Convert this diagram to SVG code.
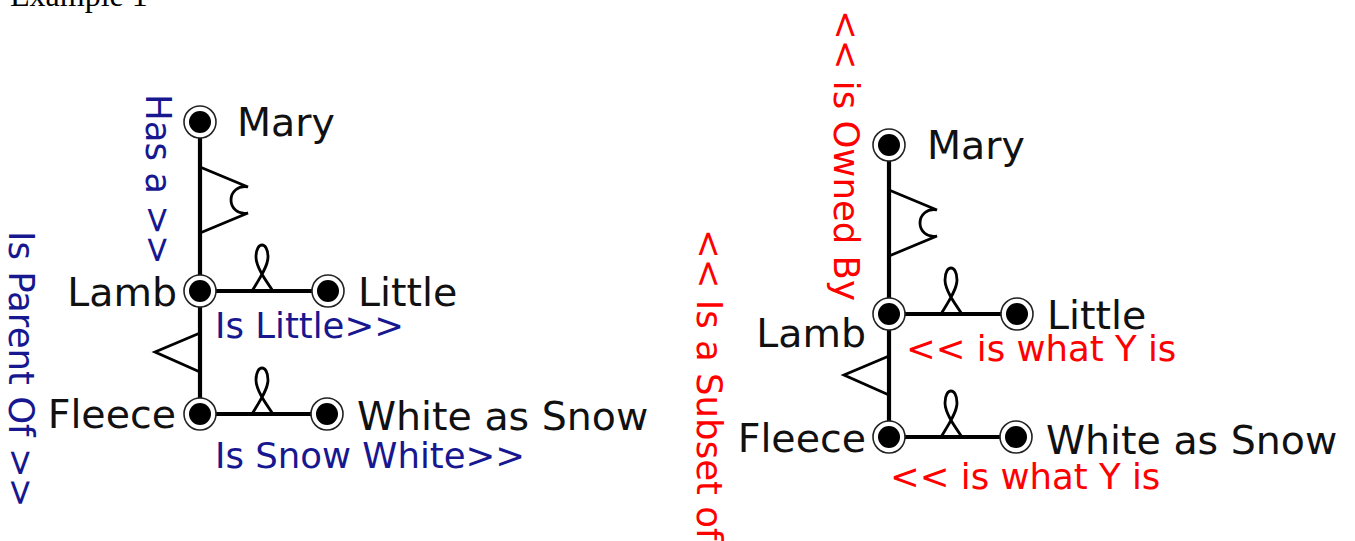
<svg xmlns="http://www.w3.org/2000/svg" width="1355" height="541" viewBox="0 0 1355 541">
  <style>
    .bg { fill: #ffffff; }
    .title { font-family: "Liberation Serif", "Times New Roman", serif; font-size: 32px; fill: #000; }
    .name { font-family: "DejaVu Sans", "Liberation Sans", sans-serif; font-size: 39.5px; fill: #111; }
    .rel-blue { font-family: "DejaVu Sans", "Liberation Sans", sans-serif; font-size: 35.5px; fill: #171790; }
    .rel-red { font-family: "DejaVu Sans", "Liberation Sans", sans-serif; font-size: 35.5px; fill: #ff0000; }
    .ring { fill: #ffffff; stroke: #222; stroke-width: 1.6; }
    .dot { fill: #000; }
    .link { fill: none; stroke: #000; stroke-width: 4.2; stroke-linecap: butt; }
    .mark { fill: none; stroke: #000; stroke-width: 2.8; stroke-linejoin: miter; }
  </style>
  <defs>
    <!-- node glyph: white ring with a black centre -->
    <g id="pt">
      <circle class="ring" r="16"/>
      <circle class="dot" r="11"/>
    </g>
    <!-- "has a" flag, anchored at the upper node -->
    <path id="flag" class="mark" d="M0,45 L48,65 C38,63 31,70 31,78 C31,86 38,93 48,91 L0,111"/>
    <!-- attribute loop, anchored at the left node -->
    <path id="loop" class="mark" d="M52,0 C58,-10 68,-24 68,-34 C68,-42 65,-46 62,-46 C59,-46 56,-42 56,-34 C56,-24 66,-10 73,0"/>
    <!-- subset wedge, anchored at the upper node -->
    <path id="wedge" class="mark" d="M0,42 L-45,61 L0,81"/>
  </defs>

  <rect class="bg" x="0" y="0" width="1355" height="541"/>

  <text class="title" x="10" y="5.5">Example 1</text>

  <!-- connectors -->
  <g id="connectors">
    <path class="link" d="M200,122 V414"/>
    <path class="link" d="M200,291 H328"/>
    <path class="link" d="M200,414 H327"/>
    <use href="#flag" transform="translate(200,122)"/>
    <use href="#wedge" transform="translate(200,291)"/>
    <use href="#loop" transform="translate(200,291)"/>
    <use href="#loop" transform="translate(200,414)"/>

    <path class="link" d="M889,145 V437"/>
    <path class="link" d="M889,314 H1017"/>
    <path class="link" d="M889,437 H1016"/>
    <use href="#flag" transform="translate(889,145)"/>
    <use href="#wedge" transform="translate(889,314)"/>
    <use href="#loop" transform="translate(889,314)"/>
    <use href="#loop" transform="translate(889,437)"/>
  </g>

  <!-- left example: relation labels -->
  <g id="left-relations">
    <text class="rel-blue" transform="translate(146,94) rotate(90)">Has a &gt;&gt;</text>
    <text class="rel-blue" transform="translate(9,231) rotate(90)">Is Parent Of &gt;&gt;</text>
    <text class="rel-blue" x="215" y="338">Is Little&gt;&gt;</text>
    <text class="rel-blue" x="215" y="468">Is Snow White&gt;&gt;</text>
  </g>

  <!-- left example: nodes -->
  <g id="l-mary"><use href="#pt" x="200" y="122"/><text class="name" x="237" y="136">Mary</text></g>
  <g id="l-lamb"><use href="#pt" x="200" y="291"/><text class="name" x="177" y="306" text-anchor="end">Lamb</text></g>
  <g id="l-little"><use href="#pt" x="328" y="291"/><text class="name" x="358" y="306">Little</text></g>
  <g id="l-fleece"><use href="#pt" x="200" y="414"/><text class="name" x="176" y="428" text-anchor="end">Fleece</text></g>
  <g id="l-white"><use href="#pt" x="327" y="414"/><text class="name" x="357" y="430">White as Snow</text></g>

  <!-- right example: relation labels -->
  <g id="right-relations">
    <text class="rel-red" transform="translate(834,10) rotate(90)">&lt;&lt; is Owned By</text>
    <text class="rel-red" transform="translate(697,229) rotate(90)">&lt;&lt; Is a Subset of</text>
    <text class="rel-red" x="906" y="361">&lt;&lt; is what Y is</text>
    <text class="rel-red" x="890" y="489">&lt;&lt; is what Y is</text>
  </g>

  <!-- right example: nodes -->
  <g id="r-mary"><use href="#pt" x="889" y="145"/><text class="name" x="927" y="159">Mary</text></g>
  <g id="r-lamb"><use href="#pt" x="889" y="314"/><text class="name" x="866" y="347" text-anchor="end">Lamb</text></g>
  <g id="r-little"><use href="#pt" x="1017" y="314"/><text class="name" x="1047" y="329">Little</text></g>
  <g id="r-fleece"><use href="#pt" x="889" y="437"/><text class="name" x="866" y="452" text-anchor="end">Fleece</text></g>
  <g id="r-white"><use href="#pt" x="1016" y="437"/><text class="name" x="1046" y="454">White as Snow</text></g>
</svg>
